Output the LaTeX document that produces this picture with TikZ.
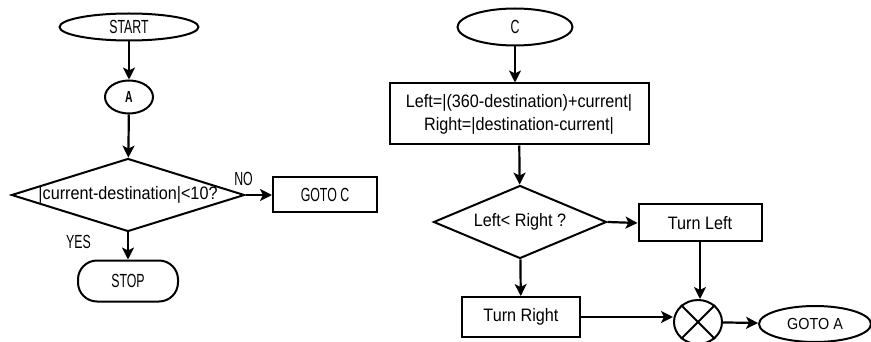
\documentclass[tikz,border=0pt]{standalone}
\usepackage{fontspec}
\setmainfont{Liberation Sans}[FakeStretch=0.9]
\newfontfamily\capsfont{Liberation Sans}[FakeStretch=0.65]
\usetikzlibrary{shapes,arrows.meta,positioning}

\begin{document}
\begin{tikzpicture}[x=1pt, y=1pt, line width=2pt,
  every node/.style = {draw, inner sep=0pt, align=center, font=\fontsize{18}{23}\selectfont},
  terminal/.style = {ellipse, font=\capsfont\fontsize{19}{22}\selectfont},
  stadium/.style = {rectangle, rounded corners=19pt, font=\capsfont\fontsize{19}{22}\selectfont},
  connector/.style = {ellipse, font=\capsfont\bfseries\fontsize{16}{19}\selectfont},
  process/.style = {rectangle},
  decision/.style = {diamond},
  tag/.style = {draw=none, font=\capsfont\fontsize{19}{22}\selectfont},
  flow/.style = {-{Stealth[length=12pt, width=12pt, inset=3pt]}, line width=2.2pt}]
  \useasboundingbox (0,0) rectangle (871,-342);
  \clip (0,0) rectangle (871,-342);

  % main loop: test the heading
  \node[terminal, minimum width=139, minimum height=27] (start) at (129,-27) {START};
  \node[connector, minimum width=48, minimum height=33] (a) at (129,-97) {A};
  \node[decision, aspect=3.2, minimum width=232, minimum height=73] (check) at (128,-195) {|current-destination|<10?};
  \node[process, minimum width=104, minimum height=35, font=\capsfont\fontsize{19}{22}\selectfont] (gotoc) at (325,-195) {GOTO C};
  \node[stadium, minimum width=100, minimum height=41] (stop) at (128,-281) {STOP};

  \draw[flow] (start) -- (a);
  \draw[flow] (a) -- (check);
  \draw[flow] (check.east) -- node[tag, pos=0, above=8pt, xshift=-2pt]{NO} (gotoc);
  \draw[flow] (check.south) -- node[tag, pos=0.35, left=36pt]{YES} (stop);

  % branch C: pick the turning direction
  \node[terminal, minimum width=115, minimum height=37] (c) at (515,-27) {C};
  \node[process, minimum width=259, minimum height=61] (calc) at (519,-114) {Left=|(360-destination)+current|\\Right=|destination-current|};
  \node[decision, aspect=2.4, minimum width=173, minimum height=73] (choose) at (520,-222) {Left< Right ?};
  \node[process, minimum width=123, minimum height=37] (turnl) at (700,-223) {Turn Left};
  \node[process, minimum width=118, minimum height=40] (turnr) at (521,-317) {Turn Right};
  \node[ellipse, minimum width=48, minimum height=44] (junc) at (698,-322) {};
  \draw (junc.45) -- (junc.225) (junc.135) -- (junc.315);
  \node[terminal, minimum width=112, minimum height=36, font=\fontsize{16}{19}\selectfont] (gotoa) at (815,-324) {GOTO A};

  \draw[flow] (c) -- (c |- calc.north);
  \draw[flow] (calc) -- (choose);
  \draw[flow] (choose.east) -- (turnl.west);
  \draw[flow] (choose) -- (turnr);
  \draw[flow] (turnr.east) -- (turnr.east -| junc.west);
  \draw[flow] (turnl.south) -- (turnl.south |- junc.north);
  \draw[flow] (junc) -- (gotoa);
\end{tikzpicture}
\end{document}
